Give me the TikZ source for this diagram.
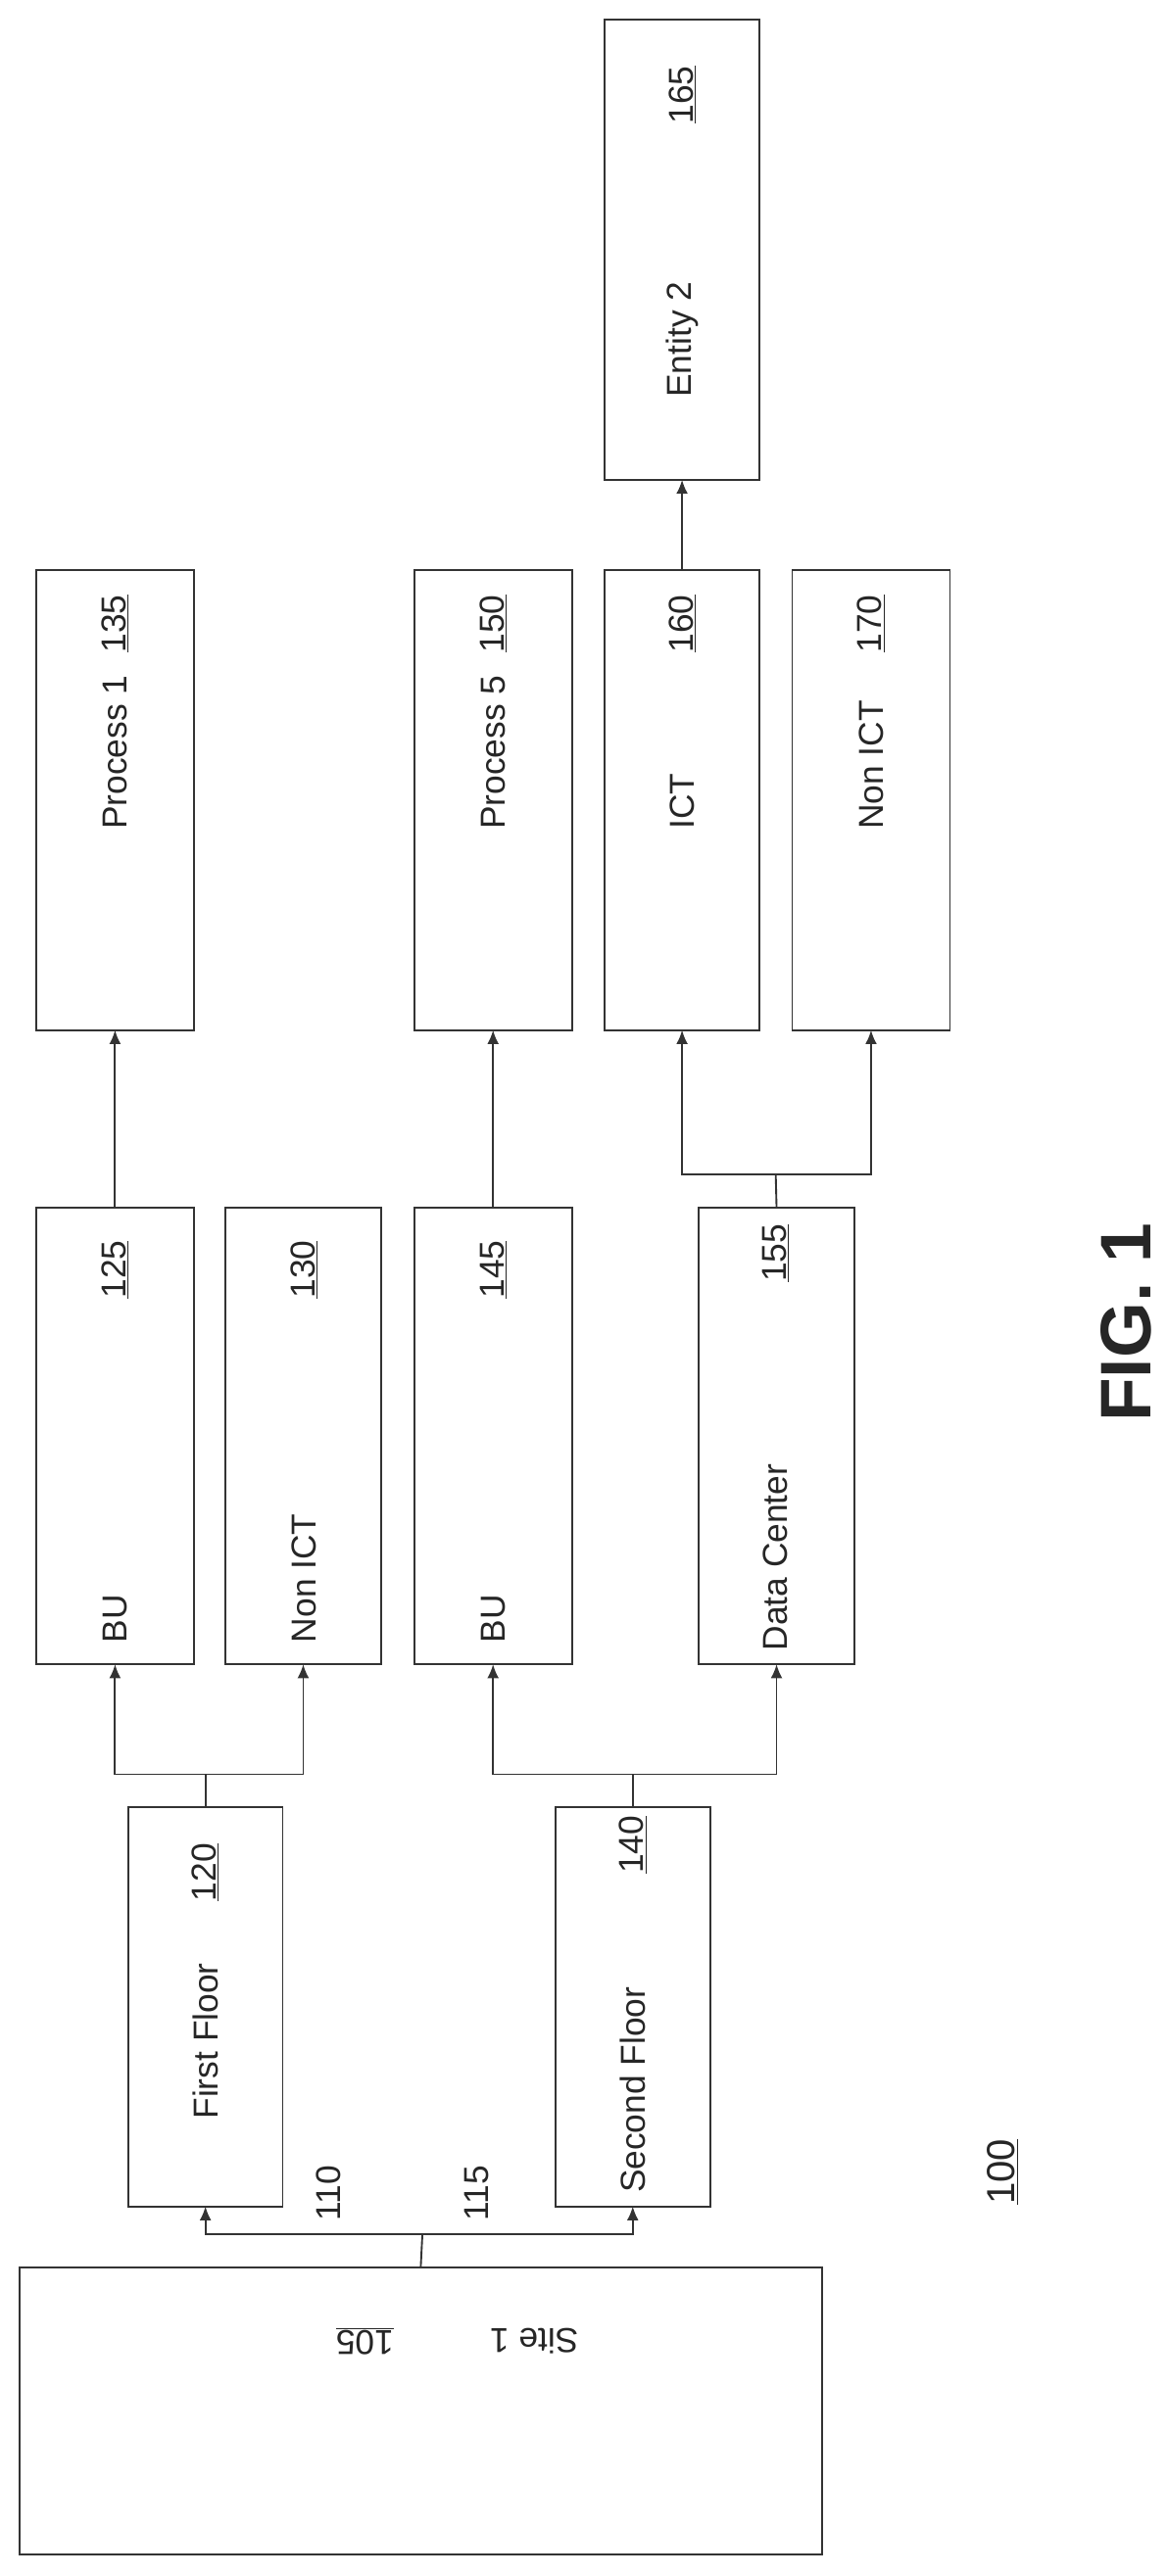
\documentclass[tikz,border=0pt]{standalone}
\usepackage{fontspec}
\setmainfont{Liberation Sans}
\usetikzlibrary{arrows.meta}
\newcommand\mybox[5]{\node[box,minimum width={(#4-#2)*0.05cm},minimum height={(#5-#3)*0.05cm}] (#1) at ({(#2+#4)/2},{(#3+#5)/2}) {};}
\begin{document}
\begin{tikzpicture}[x=0.05cm,y=-0.05cm,
  box/.style={draw=black!80,line width=1.6pt,inner sep=0pt,outer sep=0pt},
  lbl/.style={font=\fontsize{30}{34}\selectfont,text=black!85,inner sep=0pt,rotate=90,anchor=west},
  num/.style={font=\fontsize{30}{34}\selectfont,text=black!85,inner sep=0pt,rotate=90,anchor=east},
  conn/.style={draw=black!80,line width=1.6pt},
  arr/.style={conn,-{Latex[length=12pt,width=10pt]}}]
\useasboundingbox (0,0) rectangle (710,1568);
% boxes
\mybox{site}{12}{1380}{500}{1555}
\mybox{ff}{78}{1100}{172}{1343}
\mybox{sf}{338}{1100}{432}{1343}
\mybox{bua}{22}{735}{118}{1013}
\mybox{nia}{137}{735}{232}{1013}
\mybox{bub}{252}{735}{348}{1013}
\mybox{dc}{425}{735}{520}{1013}
\mybox{pa}{22}{347}{118}{627}
\mybox{pb}{252}{347}{348}{627}
\mybox{ict}{368}{347}{462}{627}
\mybox{nib}{482}{347}{578}{627}
\mybox{ent}{368}{12}{462}{292}
% texts
\node[font=\fontsize{30}{34}\selectfont,text=black!85,rotate=180] (sitet) at (325,1425) {Site 1};
\node[font=\fontsize{30}{34}\selectfont,text=black!85,rotate=180] (siten) at (222,1425) {\underline{105}};
\node[lbl] (fft) at (125,1290) {First Floor};
\node[num] (ffn) at (125,1122) {\underline{120}};
\node[lbl] (sft) at (385,1335) {Second Floor};
\node[num] (sfn) at (385,1105) {\underline{140}};
\node[lbl] (buat) at (70,1000) {BU};
\node[num] (buan) at (70,755) {\underline{125}};
\node[lbl] (niat) at (185,1000) {Non ICT};
\node[num] (nian) at (185,755) {\underline{130}};
\node[lbl] (bubt) at (300,1000) {BU};
\node[num] (bubn) at (300,755) {\underline{145}};
\node[lbl] (dct) at (472,1005) {Data Center};
\node[num] (dcn) at (472,745) {\underline{155}};
\node[lbl] (pat) at (70,505) {Process 1};
\node[num] (pan) at (70,362) {\underline{135}};
\node[lbl] (pbt) at (300,505) {Process 5};
\node[num] (pbn) at (300,362) {\underline{150}};
\node[lbl] (ictt) at (415,505) {ICT};
\node[num] (ictn) at (415,362) {\underline{160}};
\node[lbl] (nibt) at (530,505) {Non ICT};
\node[num] (nibn) at (530,362) {\underline{170}};
\node[lbl] (entt) at (415,242) {Entity 2};
\node[num] (entn) at (415,40) {\underline{165}};
\node[lbl] (l110) at (200,1352) {110};
\node[lbl] (l115) at (290,1352) {115};
\node[font=\fontsize{34}{38}\selectfont,text=black!85,inner sep=0pt,rotate=90] (l100) at (610,1322) {\underline{100}};
\node[font=\fontsize{62}{70}\selectfont\bfseries,text=black!85,inner sep=0pt,rotate=90] (fig) at (685,805) {FIG. 1};
% connectors
\coordinate (j1) at (257,1360);
\coordinate (j2) at (125,1080);
\coordinate (j3) at (385,1080);
\coordinate (j4) at (472,715);
\draw[conn] (site.north) -- (j1);
\draw[arr] (j1) -| (ff.south);
\draw[arr] (j1) -| (sf.south);
\draw[conn] (ff.north) -- (j2);
\draw[arr] (j2) -| (bua.south);
\draw[arr] (j2) -| (nia.south);
\draw[conn] (sf.north) -- (j3);
\draw[arr] (j3) -| (bub.south);
\draw[arr] (j3) -| (dc.south);
\draw[arr] (bua.north) -- (pa.south);
\draw[arr] (bub.north) -- (pb.south);
\draw[conn] (dc.north) -- (j4);
\draw[arr] (j4) -| (ict.south);
\draw[arr] (j4) -| (nib.south);
\draw[arr] (ict.north) -- (ent.south);
\end{tikzpicture}
\end{document}
